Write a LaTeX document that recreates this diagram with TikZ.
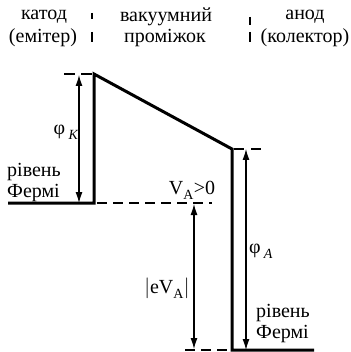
\documentclass[tikz,border=0pt]{standalone}
\usepackage{fontspec}
\setmainfont{Liberation Serif}
\usetikzlibrary{arrows.meta}
\begin{document}
\begin{tikzpicture}[x=1pt,y=-1pt,
  thickline/.style={line width=3pt, line join=miter},
  dashline/.style={line width=1.6pt, dash pattern=on 10pt off 6pt},
  sepline/.style={line width=2.2pt},
  arr/.style={line width=1.2pt, {Latex[length=11pt,width=7pt]}-{Latex[length=11pt,width=7pt]}},
  lbl/.style={font=\fontsize{20}{22}\selectfont, inner sep=0pt}]
\useasboundingbox (0,0) rectangle (350,352);
% header texts
\node[lbl] (cat1) at (44,17) {катод};
\node[lbl] (cat2) at (43,38) {(емітер)};
\node[lbl] (vac1) at (166,17) {вакуумний};
\node[lbl] (vac2) at (165,38) {проміжок};
\node[lbl] (an1) at (305,17) {анод};
\node[lbl] (an2) at (305,38) {(колектор)};
% separators
\coordinate (s1a) at (92,13); \coordinate (s1b) at (92,19);
\coordinate (s1c) at (92,32); \coordinate (s1d) at (92,42);
\coordinate (s2a) at (250,17); \coordinate (s2b) at (250,25);
\coordinate (s2c) at (250,32); \coordinate (s2d) at (250,42);
\draw[sepline] (s1a) -- (s1b) (s1c) -- (s1d) (s2a) -- (s2b) (s2c) -- (s2d);
% energy profile
\coordinate (cf) at (8,203);
\coordinate (cb) at (94,203);
\coordinate (ct) at (94,74);
\coordinate (at) at (232,149);
\coordinate (ab) at (232,350);
\coordinate (af) at (314,350);
\draw[thickline] (cf) -- (cb) -- (ct) -- (at) -- (ab) -- (af);
% dashed levels
\coordinate (d1s) at (64,74);
\draw[dashline, dash pattern=on 11pt off 6pt] (d1s) -- (ct);
\coordinate (d2s) at (234,149);
\coordinate (d2e) at (261,149);
\draw[dashline, dash pattern=on 10pt off 7pt] (d2s) -- (d2e);
\coordinate (d3s) at (97,203);
\coordinate (d3e) at (212,203);
\draw[dashline] (d3s) -- (d3e);
\coordinate (d4s) at (185,350);
\draw[dashline] (d4s) -- (ab);
% arrows
\coordinate (k1) at (79,75); \coordinate (k2) at (79,203);
\draw[arr] (k1) -- (k2);
\coordinate (a1) at (246,149); \coordinate (a2) at (246,350);
\draw[arr] (a1) -- (a2);
\coordinate (e1) at (194,204); \coordinate (e2) at (194,349);
\draw[arr] (e1) -- (e2);
% labels
\node[lbl] (phik) at (66,132) {φ\,\textsubscript{\raisebox{-2pt}{\itshape K}}};
\node[lbl] (phia) at (261,251) {φ\,\textsubscript{\raisebox{-2pt}{\itshape A}}};
\node[lbl] (va) at (192,190) {V\textsubscript{\raisebox{-2pt}{A}}>0};
\node[lbl] (ev) at (167,288) {$\bigl|$eV\textsubscript{\raisebox{-2pt}{A}}$\bigr|$};
\node[lbl, anchor=west] (rc1) at (7,172) {рівень};
\node[lbl, anchor=west] (rc2) at (7,193) {Фермі};
\node[lbl, anchor=west] (ra1) at (256,313) {рівень};
\node[lbl, anchor=west] (ra2) at (256,334) {Фермі};
\end{tikzpicture}
\end{document}
